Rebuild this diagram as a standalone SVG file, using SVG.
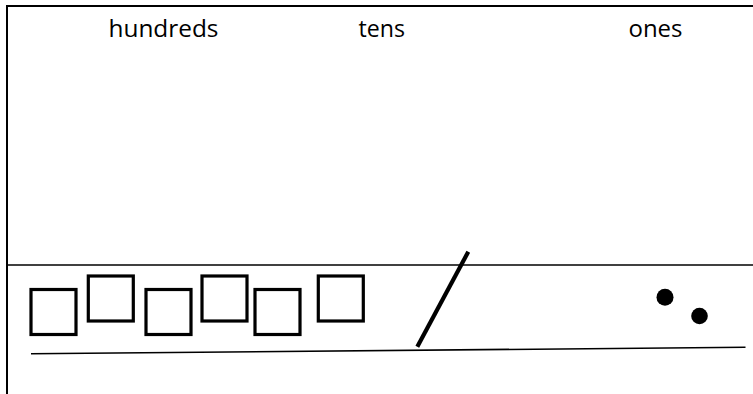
<svg xmlns="http://www.w3.org/2000/svg" width="753" height="394" viewBox="0 0 753 394">
  <style>
    .label { font-family: "Open Sans", "Noto Sans", sans-serif; font-size: 24px; fill: #000; }
    .rule { stroke: #000; fill: none; }
    .block { fill: none; stroke: #000; stroke-width: 3.2; }
    .dot { fill: #000; }
  </style>
  <rect width="753" height="394" fill="#fff"/>

  <!-- frame and rules -->
  <g id="frame">
    <line class="rule" x1="6" y1="6" x2="753" y2="6" stroke-width="2"/>
    <line class="rule" x1="7" y1="5" x2="7" y2="394" stroke-width="2"/>
    <line class="rule" x1="6" y1="265" x2="753" y2="265" stroke-width="1.6"/>
    <line class="rule" x1="31" y1="353.7" x2="745.5" y2="347.3" stroke-width="1.6"/>
  </g>

  <!-- column headings -->
  <g id="headings">
    <text class="label" x="108.5" y="37" textLength="110" lengthAdjust="spacingAndGlyphs">hundreds</text>
    <text class="label" x="358.5" y="37" textLength="46.5" lengthAdjust="spacingAndGlyphs">tens</text>
    <text class="label" x="628.5" y="37" textLength="54" lengthAdjust="spacingAndGlyphs">ones</text>
  </g>

  <!-- hundreds: six squares -->
  <g id="hundreds">
    <rect class="block" x="31" y="289.5" width="45" height="45"/>
    <rect class="block" x="88.3" y="276" width="45" height="45"/>
    <rect class="block" x="146" y="289.5" width="45" height="45"/>
    <rect class="block" x="202" y="276" width="45" height="45"/>
    <rect class="block" x="255" y="289.5" width="45" height="45"/>
    <rect class="block" x="318.3" y="276" width="45" height="45"/>
  </g>

  <!-- tens: one stick -->
  <g id="tens">
    <line class="rule" x1="468.3" y1="251.7" x2="417.3" y2="346.7" stroke-width="4.2"/>
  </g>

  <!-- ones: two dots -->
  <g id="ones">
    <circle class="dot" cx="665" cy="297.3" r="8.5"/>
    <circle class="dot" cx="699.5" cy="316" r="8.3"/>
  </g>
</svg>
